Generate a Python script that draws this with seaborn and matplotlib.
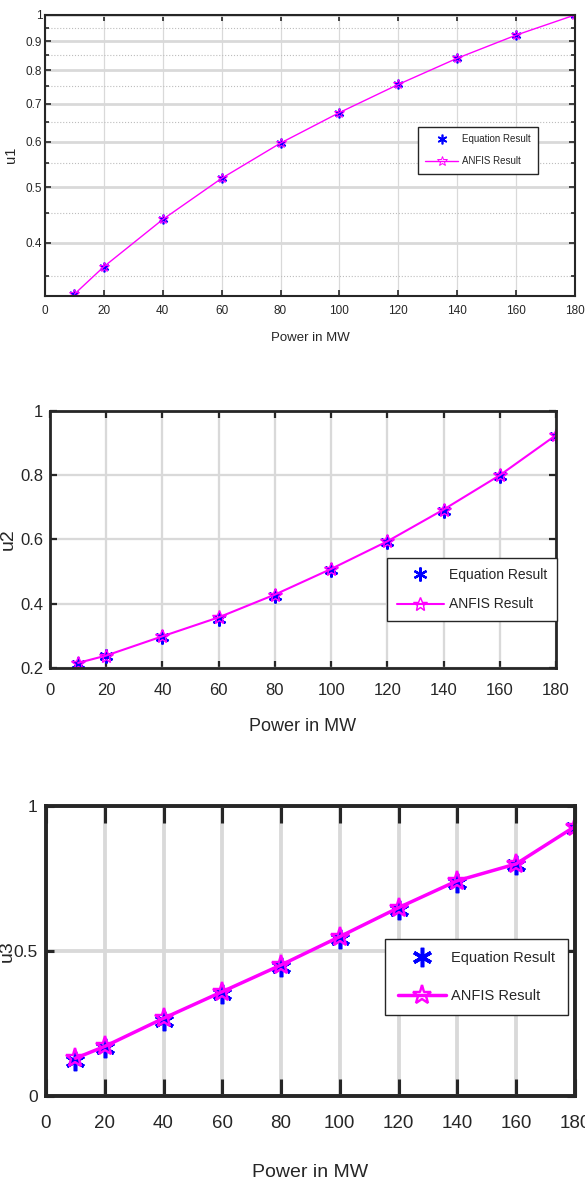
import numpy as np
import pandas as pd
import matplotlib
matplotlib.use("Agg")
import matplotlib.pyplot as plt
import seaborn as sns
from matplotlib.ticker import FixedLocator, NullFormatter, FixedFormatter

# Dados
power = [10, 20, 40, 60, 80, 100, 120, 140, 160, 180]
u1_eq = [0.325, 0.363, 0.439, 0.518, 0.597, 0.675, 0.756, 0.840, 0.922, 1.0]
u1_anfis = [0.325, 0.363, 0.439, 0.518, 0.597, 0.675, 0.756, 0.840, 0.922, 1.0]
u2_eq = [0.211, 0.236, 0.295, 0.353, 0.425, 0.505, 0.591, 0.690, 0.797, 0.923]
u2_anfis = [0.215, 0.238, 0.298, 0.357, 0.428, 0.508, 0.594, 0.693, 0.800, 0.925]
u3_eq = [0.120, 0.163, 0.257, 0.350, 0.444, 0.540, 0.640, 0.735, 0.797, 0.925]
u3_anfis = [0.129, 0.170, 0.267, 0.359, 0.451, 0.549, 0.649, 0.742, 0.800, 0.929]

x_ticks = [0, 20, 40, 60, 80, 100, 120, 140, 160, 180]
u1_ticks = [0.4, 0.5, 0.6, 0.7, 0.8, 0.9, 1.0]
u1_tick_labels = ['0.4', '0.5', '0.6', '0.7', '0.8', '0.9', '1']
u1_minor = [0.35, 0.45, 0.55, 0.65, 0.75, 0.85, 0.95]
u2_ticks = [0.2, 0.4, 0.6, 0.8, 1.0]
u2_tick_labels = ['0.2', '0.4', '0.6', '0.8', '1']
u3_ticks = [0, 0.5, 1.0]
u3_tick_labels = ['0', '0.5', '1']

sns.set_style('white')
plt.rcParams['font.family'] = ['Liberation Sans', 'DejaVu Sans']

fig = plt.figure(figsize=(5.85, 11.96), dpi=100)

paineis = [
    dict(pos=[0.0769, 0.7528, 0.906, 0.2347], eq=u1_eq, an=u1_anfis, ylabel='u1',
         ticks=u1_ticks, labels=u1_tick_labels, ylim=(0.323, 1.0), log=True,
         xfs=8.5, yfs=8.5, xlfs=9.5, ylfs=10.5, lw=1.0, spine=1.5, ms=7,
         xtlen=4, ytlen=4, xpad=7, ypad=2, ylab_x=-0.051, xlab_y=-0.128,
         leg=(0.704, 0.601), legfs=7, hl=3.4, htp=0.4, bp=0.75, ls=1.25),
    dict(pos=[0.0855, 0.4417, 0.865, 0.2146], eq=u2_eq, an=u2_anfis, ylabel='u2',
         ticks=u2_ticks, labels=u2_tick_labels, ylim=(0.2, 1.0), log=False,
         xfs=12, yfs=12, xlfs=13, ylfs=14, lw=1.5, spine=2.0, ms=10,
         xtlen=5, ytlen=5, xpad=11, ypad=5, ylab_x=-0.066, xlab_y=-0.196,
         leg=(0.665, 0.427), legfs=10, hl=3.45, htp=0.3, bp=0.72, ls=1.1),
    dict(pos=[0.0786, 0.0839, 0.904, 0.2422], eq=u3_eq, an=u3_anfis, ylabel='u3',
         ticks=u3_ticks, labels=u3_tick_labels, ylim=(0.0, 1.0), log=False,
         xfs=13.5, yfs=12.5, xlfs=14, ylfs=14, lw=2.5, spine=2.8, ms=14,
         xtlen=12, ytlen=6, xpad=14, ypad=6, ylab_x=-0.057, xlab_y=-0.235,
         leg=(0.642, 0.541), legfs=10.5, hl=3.3, htp=0.35, bp=0.85, ls=1.6),
]

asterisco = (6, 2, 0)

for p in paineis:
    ax = fig.add_axes(p['pos'])
    df = pd.DataFrame({'Power': power, 'Equation': p['eq'], 'ANFIS': p['an']})

    sns.lineplot(data=df, x='Power', y='Equation', ax=ax, color='blue', linestyle='none',
                 marker=asterisco, markersize=p['ms'], markeredgecolor='blue',
                 markeredgewidth=p['lw'] * 0.9 + 0.3, label='Equation Result')
    sns.lineplot(data=df, x='Power', y='ANFIS', ax=ax, color='magenta', linewidth=p['lw'],
                 marker='*', markersize=p['ms'], markerfacecolor='none',
                 markeredgecolor='magenta', markeredgewidth=p['lw'] * 0.7,
                 label='ANFIS Result')

    if p['log']:
        ax.set_yscale('log')
    ax.set_xlim(0, 180)
    ax.set_ylim(*p['ylim'])
    ax.xaxis.set_major_locator(FixedLocator(x_ticks))
    ax.yaxis.set_major_locator(FixedLocator(p['ticks']))
    ax.yaxis.set_major_formatter(FixedFormatter(p['labels']))
    if p['log']:
        ax.yaxis.set_minor_locator(FixedLocator(u1_minor))
        ax.yaxis.set_minor_formatter(NullFormatter())
        ax.grid(True, which='minor', axis='y', color='#bdbdbd', linestyle=':', linewidth=0.8)
        ax.grid(True, which='major', axis='y', color='#d9d9d9', linewidth=2.0)
        ax.grid(True, which='major', axis='x', color='#d9d9d9', linewidth=0.9)
        ax.tick_params(which='minor', direction='in', length=3,
                       left=True, right=True, width=1.2, color='#262626')
    else:
        ax.yaxis.set_minor_locator(FixedLocator([]))
        ax.grid(True, which='major', color='#d9d9d9', linewidth=p['lw'] * 1.1)

    ax.tick_params(which='major', direction='in', width=p['spine'] * 0.8,
                   top=True, right=True, bottom=True, left=True, colors='#262626')
    ax.tick_params(axis='x', which='major', pad=p['xpad'], length=p['xtlen'],
                   labelsize=p['xfs'])
    ax.tick_params(axis='y', which='major', pad=p['ypad'], length=p['ytlen'],
                   labelsize=p['yfs'])
    for s in ax.spines.values():
        s.set_visible(True)
        s.set_color('#262626')
        s.set_linewidth(p['spine'])

    ax.set_xlabel('Power in MW', fontsize=p['xlfs'], color='#262626')
    ax.set_ylabel(p['ylabel'], fontsize=p['ylfs'], color='#262626')
    ax.xaxis.set_label_coords(0.5, p['xlab_y'])
    ax.yaxis.set_label_coords(p['ylab_x'], 0.5)

    leg = ax.legend(loc='upper left', bbox_to_anchor=p['leg'], fontsize=p['legfs'],
                    frameon=True, fancybox=False, framealpha=1, edgecolor='#262626',
                    handlelength=p['hl'], borderpad=p['bp'], labelspacing=p['ls'],
                    handletextpad=p['htp'], borderaxespad=0)
    leg.get_frame().set_linewidth(1.0)

fig.savefig('out.png', dpi=100)
